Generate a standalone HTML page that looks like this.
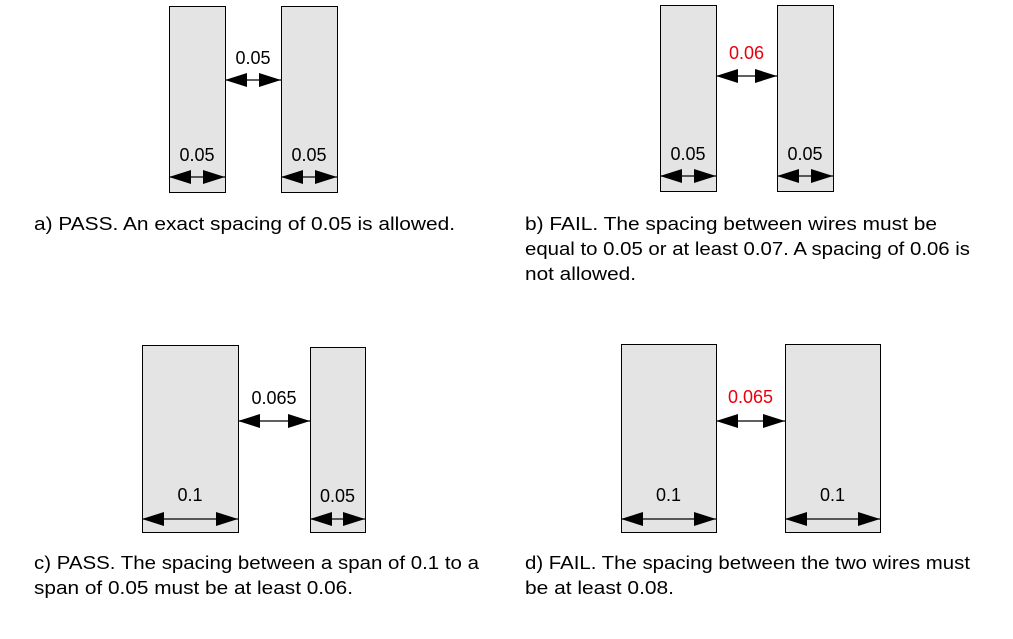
<!DOCTYPE html>
<html><head><meta charset="utf-8"><style>
html,body{margin:0;padding:0;background:#fff;}
svg{display:block;font-family:"Liberation Sans",Arial,sans-serif;}
</style></head><body>
<svg width="1013" height="639" viewBox="0 0 1013 639">
<defs>
<marker id="ah" viewBox="0 0 22 14" refX="22" refY="7" markerWidth="22" markerHeight="14" markerUnits="userSpaceOnUse" orient="auto-start-reverse"><path d="M0,0 L22,7 L0,14 z" fill="#000"/></marker>
</defs>
<script>
const panels=[
 {rects:[[169,6,56,186],[281,6,56,186]],gap:{x1:225,x2:281,y:80,label:"0.05",ly:64,red:false},
  widths:[{x1:169,x2:225,y:177,label:"0.05",ly:161},{x1:281,x2:337,y:177,label:"0.05",ly:161}]},
 {rects:[[660,5,56,186],[777,5,56,186]],gap:{x1:716,x2:777,y:76,label:"0.06",ly:59,red:true},
  widths:[{x1:660,x2:716,y:176,label:"0.05",ly:160},{x1:777,x2:833,y:176,label:"0.05",ly:160}]},
 {rects:[[142,345,96,187],[310,347,55,185]],gap:{x1:238,x2:310,y:421,label:"0.065",ly:404,red:false},
  widths:[{x1:142,x2:238,y:519,label:"0.1",ly:501},{x1:310,x2:365,y:519,label:"0.05",ly:502}]},
 {rects:[[621,344,95,188],[785,344,95,188]],gap:{x1:716,x2:785,y:421,label:"0.065",ly:403,red:true},
  widths:[{x1:621,x2:716,y:519,label:"0.1",ly:501},{x1:785,x2:880,y:519,label:"0.1",ly:501}]}
];
const captions=[
 {x:34,lines:[["a) PASS. An exact spacing of 0.05 is allowed.",230,421]]},
 {x:525,lines:[["b) FAIL. The spacing between wires must be",230,412],["equal to 0.05 or at least 0.07. A spacing of 0.06 is",255,445],["not allowed.",280,111]]},
 {x:34,lines:[["c) PASS. The spacing between a span of 0.1 to a",569,445],["span of 0.05 must be at least 0.06.",594,319]]},
 {x:525,lines:[["d) FAIL. The spacing between the two wires must",569,445],["be at least 0.08.",594,149]]}
];
</script>
<g id="root"></g>
<script>
const NS="http://www.w3.org/2000/svg";
const root=document.getElementById('root');
function mk(t,a){const e=document.createElementNS(NS,t);for(const k in a)e.setAttribute(k,a[k]);return e;}
panels.forEach((p,i)=>{
 const g=mk('g',{});
 
 
 p.rects.forEach((r,j)=>{
  const re=mk('rect',{x:r[0]+0.5,y:r[1]+0.5,width:r[2],height:r[3],fill:'#e4e4e4',stroke:'#000','stroke-width':1});
  
  
  g.appendChild(re);
 });
 const dims=[Object.assign({kind:'gap'},p.gap)].concat(p.widths.map(w=>Object.assign({kind:'width'},w)));
 dims.forEach((d,j)=>{
  const l=mk('line',{x1:d.x1,x2:d.x2,y1:d.y,y2:d.y,stroke:'#000','stroke-width':1.3,'marker-start':'url(#ah)','marker-end':'url(#ah)'});
  
  
  g.appendChild(l);
  const t=mk('text',{x:(d.x1+d.x2)/2,y:d.ly,'text-anchor':'middle','font-size':18,fill:d.red?'#e8000b':'#000'});
  t.textContent=d.label;
  
  
  g.appendChild(t);
 });
 root.appendChild(g);
});
captions.forEach((c,i)=>{
 c.lines.forEach(ln=>{
  const t=mk('text',{x:c.x,y:ln[1],'font-size':18,fill:'#000',textLength:ln[2],lengthAdjust:'spacingAndGlyphs'});
  t.textContent=ln[0];
  
  
  root.appendChild(t);
 });
});
</script>
</svg>
</body></html>
